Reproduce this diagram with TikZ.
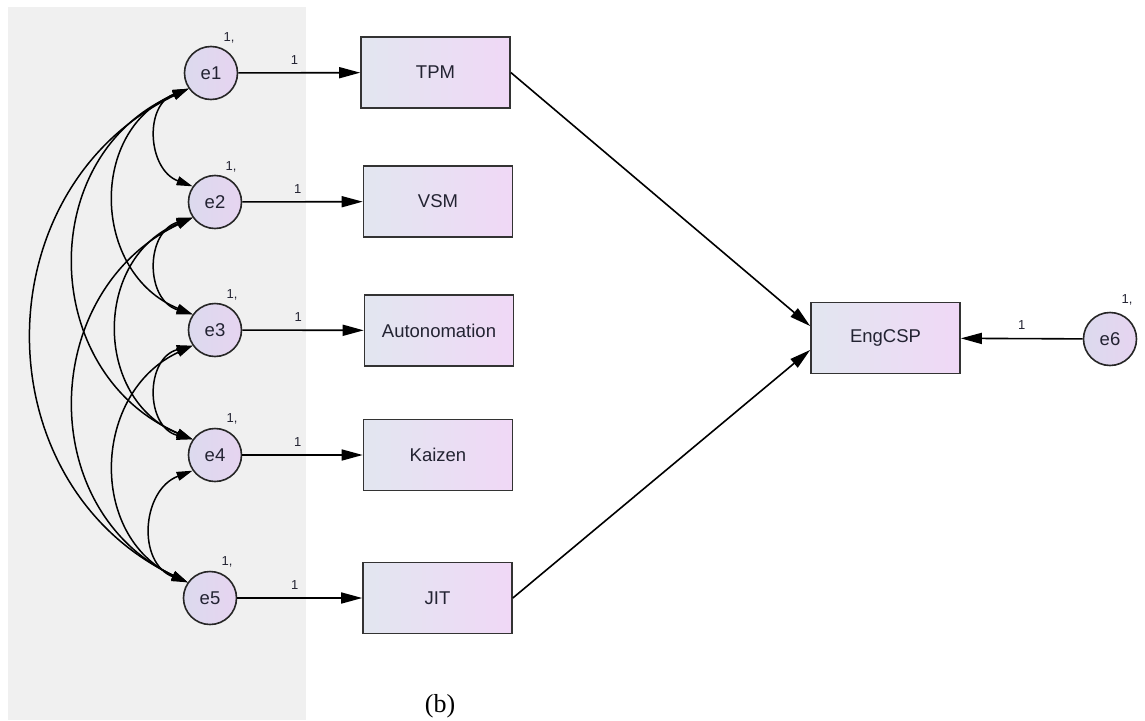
\documentclass[tikz,border=0pt]{standalone}
\usepackage{fontspec}
\setmainfont{Liberation Sans}
\newfontfamily\seriffont{Liberation Serif}
\usetikzlibrary{arrows.meta}
\definecolor{bgray}{RGB}{240,240,240}
\definecolor{circleft}{RGB}{220,218,238}
\definecolor{circright}{RGB}{230,212,240}
\definecolor{boxleft}{RGB}{226,230,240}
\definecolor{boxright}{RGB}{240,216,246}
\definecolor{txt}{RGB}{35,35,50}
\begin{document}
\begin{tikzpicture}[x=1pt,y=-1pt,
  latent/.style={circle, draw=black!85, line width=1.6pt, minimum size=53pt, inner sep=0pt,
    left color=circleft, right color=circright, text=txt, font=\fontsize{18.5}{20}\selectfont},
  obs/.style={rectangle, draw=black!80, line width=1.6pt, minimum width=149pt, minimum height=71pt,
    inner sep=0pt, left color=boxleft, right color=boxright, text=txt, font=\fontsize{18.5}{20}\selectfont},
  varlab/.style={font=\fontsize{13}{14}\selectfont, text=txt, inner sep=0pt},
  wlab/.style={font=\fontsize{13}{14}\selectfont, text=txt, inner sep=0pt, above=8pt},
  regr/.style={line width=1.6pt, -{Triangle[length=21pt,width=11pt]}},
  cov/.style={line width=1.5pt, {Triangle[length=16pt,width=9pt]}-{Triangle[length=16pt,width=9pt]}}
]
\useasboundingbox (0,0) rectangle (1145,720);
\fill[white] (0,0) rectangle (1145,720);
\fill[bgray] (8,7) rectangle (306,720);

% error terms
\node[latent] (e1) at (211,73) {e1};
\node[latent] (e2) at (215,202) {e2};
\node[latent] (e3) at (215,330) {e3};
\node[latent] (e4) at (215,455) {e4};
\node[latent] (e5) at (210,598) {e5};
\node[latent] (e6) at (1110,339) {e6};

% variance labels
\node[varlab] (v1) at (229,38) {1,};
\node[varlab] (v2) at (231,167) {1,};
\node[varlab] (v3) at (232,295) {1,};
\node[varlab] (v4) at (232,419) {1,};
\node[varlab] (v5) at (227,562) {1,};
\node[varlab] (v6) at (1127,300) {1,};

% observed variables
\node[obs] (tpm) at (435.5,72.5) {TPM};
\node[obs] (vsm) at (438,201.5) {VSM};
\node[obs] (auto) at (439,330.5) {Autonomation};
\node[obs] (kai) at (438,455) {Kaizen};
\node[obs] (jit) at (437.5,598) {JIT};
\node[obs] (eng) at (885.5,338) {EngCSP};

% regression paths
\draw[regr] (e1) -- node[pos=0.46, wlab] (w1) {1} (tpm);
\draw[regr] (e2) -- node[pos=0.46, wlab] (w2) {1} (vsm);
\draw[regr] (e3) -- node[pos=0.46, wlab] (w3) {1} (auto);
\draw[regr] (e4) -- node[pos=0.46, wlab] (w4) {1} (kai);
\draw[regr] (e5) -- node[pos=0.46, wlab] (w5) {1} (jit);
\draw[regr] (e6) -- node[pos=0.5, wlab] (w6) {1} (eng);
\draw[regr] (tpm.east) -- (eng.171);
\draw[regr] (jit.east) -- (eng.189);

% covariances
\draw[cov] (e1.215) .. controls (143.7,105.4) and (147.7,169.6) .. (e2.145);
\draw[cov] (e2.215) .. controls (145,232) and (145,300) .. (e3.145);
\draw[cov] (e3.215) .. controls (145,358) and (145,427) .. (e4.145);
\draw[cov] (e4.215) .. controls (141.6,490) and (136.6,563) .. (e5.145);
\draw[cov] (e1.215) .. controls (87.7,129.6) and (91.7,273.4) .. (e3.145);
\draw[cov] (e2.215) .. controls (93,257.7) and (93,399.3) .. (e4.145);
\draw[cov] (e3.215) .. controls (92.4,392.2) and (87.4,535.8) .. (e5.145);
\draw[cov] (e1.215) .. controls (34.3,154.4) and (38.3,373.6) .. (e4.145);
\draw[cov] (e2.215) .. controls (39,290.7) and (34,509.3) .. (e5.145);
\draw[cov] (e1.215) .. controls (-18.3,187.8) and (-19.3,483.2) .. (e5.145);

% caption
\node[font=\seriffont\fontsize{26}{28}\selectfont, inner sep=0pt] (cap) at (440,706) {(b)};
\end{tikzpicture}
\end{document}
